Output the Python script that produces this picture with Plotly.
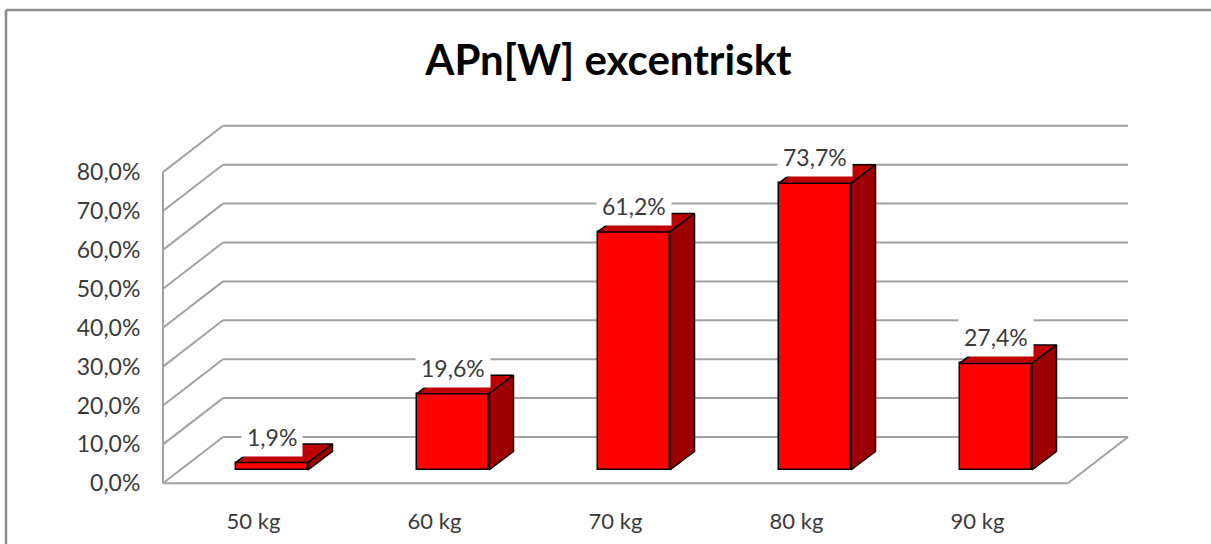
import plotly.graph_objects as go

# --- data ---
categories = ["50 kg", "60 kg", "70 kg", "80 kg", "90 kg"]
values = [1.9, 19.6, 61.2, 73.7, 27.4]
value_labels = ["1,9%", "19,6%", "61,2%", "73,7%", "27,4%"]
grid_values = [0, 10, 20, 30, 40, 50, 60, 70, 80]
grid_labels = ["0,0%", "10,0%", "20,0%", "30,0%", "40,0%", "50,0%", "60,0%", "70,0%", "80,0%"]
title_text = "APn[W] excentriskt"

# --- oblique projection, pixels per axis unit ---
PX_PER_CAT = 181.0
PX_PER_PCT = 3.89
X_LEFT, X_RIGHT = 150, 1140      # plot area in px
Y_TOP, Y_BOTTOM = 100, 495
AXIS_X, AXIS_Y = 163, 483.3      # where category edge -0.5 and 0 % sit

wall_dx, wall_dy = 60 / PX_PER_CAT, 46.3 / PX_PER_PCT
bar_off_x, bar_off_y = 18.25 / PX_PER_CAT, 13.3 / PX_PER_PCT
bar_dx, bar_dy = 24.5 / PX_PER_CAT, 18.5 / PX_PER_PCT
bar_w = 72.5 / PX_PER_CAT

FONT = "Lato, Carlito, Calibri, sans-serif"
TXT = "#3a3a3a"
GRID = "#a2a2a2"
n = len(categories)
xL, xR = -0.5, n - 0.5

fig = go.Figure()

# front faces
fig.add_trace(go.Bar(
    x=[i + bar_off_x for i in range(n)], y=values,
    base=[bar_off_y] * n, width=bar_w,
    marker=dict(color="#ff0000", line=dict(color="#000000", width=1.5)),
    showlegend=False, hoverinfo="skip",
))

# top and side faces
for i, v in enumerate(values):
    x0 = i + bar_off_x - bar_w / 2
    x1 = x0 + bar_w
    yb = bar_off_y
    yt = bar_off_y + v
    fig.add_trace(go.Scatter(
        x=[x0, x1, x1 + bar_dx, x0 + bar_dx, x0],
        y=[yt, yt, yt + bar_dy, yt + bar_dy, yt],
        mode="lines", fill="toself", fillcolor="#c00000",
        line=dict(color="#000000", width=1.5), showlegend=False, hoverinfo="skip",
    ))
    fig.add_trace(go.Scatter(
        x=[x1, x1 + bar_dx, x1 + bar_dx, x1, x1],
        y=[yb, yb + bar_dy, yt + bar_dy, yt, yb],
        mode="lines", fill="toself", fillcolor="#9c0000",
        line=dict(color="#000000", width=1.5), showlegend=False, hoverinfo="skip",
    ))

# walls and floor
shapes = []
def seg(x0, y0, x1, y1):
    shapes.append(dict(type="line", xref="x", yref="y", x0=x0, y0=y0, x1=x1, y1=y1,
                       layer="below", line=dict(color=GRID, width=2)))

for g in grid_values:
    seg(xL, g, xL + wall_dx, g + wall_dy)
    seg(xL + wall_dx, g + wall_dy, xR + wall_dx, g + wall_dy)
seg(xL, 0, xL, grid_values[-1])
seg(xL, 0, xR, 0)
seg(xR, 0, xR + wall_dx, wall_dy)

# chart-area border (top and left only are visible)
shapes.append(dict(type="line", xref="paper", yref="paper", layer="below",
                   x0=(6 - X_LEFT) / (X_RIGHT - X_LEFT), x1=(1211 - X_LEFT) / (X_RIGHT - X_LEFT),
                   y0=(Y_BOTTOM - 10) / (Y_BOTTOM - Y_TOP), y1=(Y_BOTTOM - 10) / (Y_BOTTOM - Y_TOP),
                   line=dict(color="#8c8c8c", width=2.5)))
shapes.append(dict(type="line", xref="paper", yref="paper", layer="below",
                   x0=(6 - X_LEFT) / (X_RIGHT - X_LEFT), x1=(6 - X_LEFT) / (X_RIGHT - X_LEFT),
                   y0=(Y_BOTTOM - 10) / (Y_BOTTOM - Y_TOP), y1=(Y_BOTTOM - 544) / (Y_BOTTOM - Y_TOP),
                   line=dict(color="#8c8c8c", width=2.5)))

# data labels
annotations = [
    dict(x=i + bar_off_x, y=bar_off_y + v, text=lab, showarrow=False, xanchor="center", yanchor="middle",
         yshift=26, bgcolor="#ffffff", borderpad=5,
         font=dict(family=FONT, size=23, color=TXT))
    for i, (v, lab) in enumerate(zip(values, value_labels))
]

fig.update_layout(
    width=1211, height=544, autosize=False,
    margin=dict(l=X_LEFT, r=1211 - X_RIGHT, t=Y_TOP, b=544 - Y_BOTTOM, pad=0),
    paper_bgcolor="#ffffff", plot_bgcolor="#ffffff",
    title=dict(text=f"<b>{title_text}</b>", x=608.5 / 1211, xanchor="center", y=1 - 60 / 544, yanchor="middle",
               font=dict(family=FONT, size=42, color="#000000")),
    shapes=shapes, annotations=annotations, showlegend=False, bargap=0,
    xaxis=dict(
        range=[xL - (AXIS_X - X_LEFT) / PX_PER_CAT, xL + (X_RIGHT - AXIS_X) / PX_PER_CAT],
        tickmode="array", tickvals=list(range(n)), ticktext=categories,
        showgrid=False, zeroline=False, showline=False, automargin=False,
        ticks="outside", ticklen=7, tickcolor="rgba(0,0,0,0)",
        tickfont=dict(family=FONT, size=22, color=TXT),
    ),
    yaxis=dict(
        range=[-(Y_BOTTOM - AXIS_Y) / PX_PER_PCT, (AXIS_Y - Y_TOP) / PX_PER_PCT],
        tickmode="array", tickvals=grid_values, ticktext=grid_labels,
        showgrid=False, zeroline=False, showline=False, automargin=False,
        ticks="outside", ticklen=4, tickcolor="rgba(0,0,0,0)",
        tickfont=dict(family=FONT, size=23, color=TXT),
    ),
)

fig.write_html("out.html", post_script="document.body.style.margin='0';",
               config={"displayModeBar": False})
